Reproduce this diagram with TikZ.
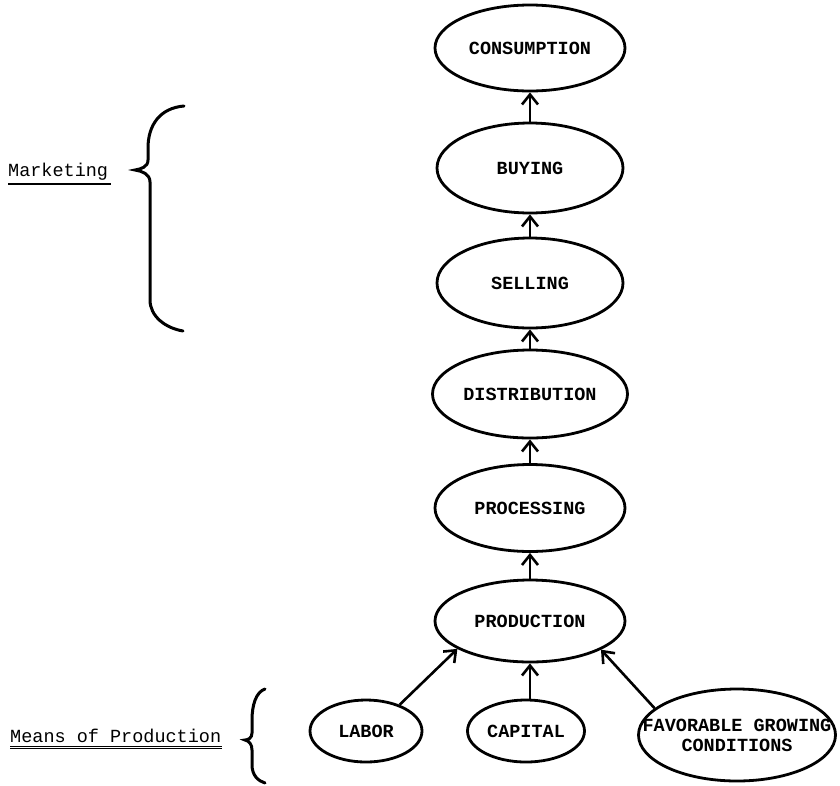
\documentclass[tikz,border=0pt]{standalone}
\usepackage{fontspec}
\setmonofont{Liberation Mono}
\usetikzlibrary{shapes.geometric,arrows.meta}
\tikzset{
  oval/.style={ellipse, draw, line width=2.8pt, inner sep=0pt, align=center,
    font=\ttfamily\bfseries\fontsize{18.5}{20}\selectfont},
  flow/.style={line width=2.6pt, -{Straight Barb[length=10pt,width=16pt,line width=2.6pt]}},
  brace/.style={line width=3pt, line cap=round},
  lbl/.style={font=\ttfamily\fontsize{18.5}{20}\selectfont, anchor=base west, inner sep=0pt}
}
\begin{document}
\begin{tikzpicture}[x=1pt,y=-1pt]
\useasboundingbox (0,0) rectangle (840,785);
\node[oval, minimum width=190, minimum height=86] (cons) at (530,48) {CONSUMPTION};
\node[oval, minimum width=186, minimum height=90] (buy) at (530,168) {BUYING};
\node[oval, minimum width=186, minimum height=90] (sell) at (530,283) {SELLING};
\node[oval, minimum width=195, minimum height=88] (dist) at (530,394) {DISTRIBUTION};
\node[oval, minimum width=190, minimum height=87] (proc) at (530,508) {PROCESSING};
\node[oval, minimum width=190, minimum height=82] (prod) at (530,621) {PRODUCTION};
\node[oval, minimum width=112, minimum height=62] (labor) at (366,731) {LABOR};
\node[oval, minimum width=117, minimum height=62] (cap) at (526,731) {CAPITAL};
\node[oval, minimum width=197, minimum height=92, inner xsep=-26pt] (fav) at (737,735) {FAVORABLE GROWING\\CONDITIONS};

\draw[flow] (buy.north) -- (cons.south);
\draw[flow] (sell.north) -- (buy.south);
\draw[flow] (dist.north) -- (sell.south);
\draw[flow] (proc.north) -- (dist.south);
\draw[flow] (prod.north) -- (proc.south);
\draw[flow] (prod.south |- cap.north) -- (prod.south);
\draw[flow] (labor.38) -- (prod.201);
\draw[flow] (fav.162) -- (prod.338);

\node[lbl] (mk) at (8,176) {Marketing};
\draw[line width=1.6pt] (mk.south west) ++(0,4) coordinate (mku) -- ++(103,0);
\node[lbl] (mp) at (10,742) {Means of Production};
\draw[line width=1.6pt] (mp.south west) ++(0,4) coordinate (mpu) -- ++(212,0);
\draw[line width=1pt] (mpu) ++(0,2.5) -- ++(212,0);

\draw[brace] (184,106) .. controls (160,108) and (148,125) .. (148,148) -- (148,160)
  .. controls (148,167) and (141,169) .. (135,170)
  .. controls (142,171) and (150,174) .. (150,182) -- (150,300)
  .. controls (150,316) and (165,328) .. (183,331);
\draw[brace] (265,689) .. controls (256,692) and (252,705) .. (252,720) -- (252,733)
  .. controls (252,738) and (248,740) .. (245,740)
  .. controls (249,741) and (252,744) .. (252,750) -- (252,765)
  .. controls (252,775) and (258,781) .. (265,783);
\end{tikzpicture}
\end{document}
